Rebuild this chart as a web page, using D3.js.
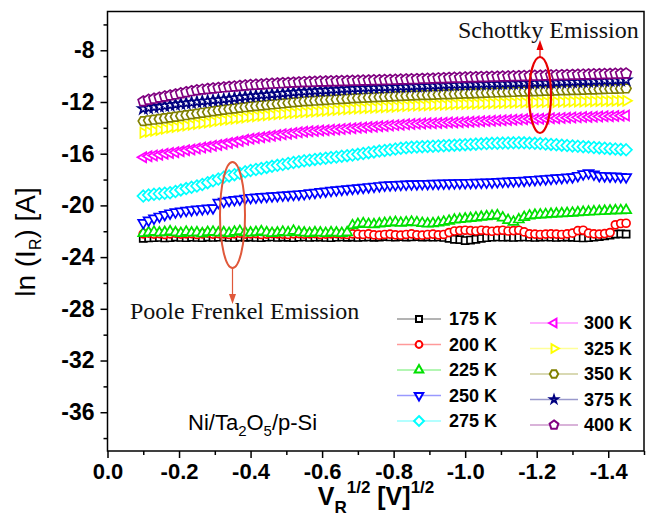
<!DOCTYPE html>
<html><head><meta charset="utf-8">
<script src="https://cdn.jsdelivr.net/npm/d3@7"></script>
<style>body{margin:0;background:#fff;} svg{display:block;}</style>
</head><body>
<svg id="chart" width="650" height="528"></svg>
<script>
// ---- data ----
const vStart = -0.10, vStep = -0.015, nPts = 91;   // reverse-bias sampling grid, V^1/2
const vR = d3.range(nPts).map(i => +(vStart + vStep * i).toFixed(3));

const labels = ["175 K","200 K","225 K","250 K","275 K","300 K","325 K","350 K","375 K","400 K"];

const s175 = [-22.55,-22.52,-22.50,-22.48,-22.52,-22.50,-22.45,-22.48,-22.50,-22.46,
-22.48,-22.50,-22.45,-22.48,-22.46,-22.44,-22.48,-22.50,-22.45,-22.47,
-22.45,-22.48,-22.50,-22.46,-22.44,-22.48,-22.45,-22.47,-22.50,-22.46,
-22.44,-22.48,-22.46,-22.45,-22.48,-22.50,-22.46,-22.44,-22.47,-22.45,
-22.48,-22.46,-22.44,-22.47,-22.45,-22.42,-22.44,-22.46,-22.42,-22.45,
-22.44,-22.42,-22.45,-22.43,-22.46,-22.44,-22.48,-22.55,-22.62,-22.65,
-22.72,-22.68,-22.62,-22.55,-22.50,-22.46,-22.44,-22.46,-22.45,-22.48,
-22.46,-22.44,-22.46,-22.48,-22.45,-22.44,-22.46,-22.48,-22.46,-22.45,
-22.47,-22.50,-22.52,-22.50,-22.46,-22.42,-22.35,-22.30,-22.22,-22.20,
-22.22];
const s200 = [-22.20,-22.15,-22.22,-22.18,-22.25,-22.20,-22.15,-22.22,-22.20,-22.18,
-22.25,-22.20,-22.15,-22.22,-22.18,-22.20,-22.25,-22.20,-22.15,-22.22,
-22.20,-22.18,-22.25,-22.22,-22.18,-22.20,-22.22,-22.25,-22.20,-22.18,
-22.22,-22.20,-22.18,-22.25,-22.22,-22.20,-22.18,-22.22,-22.25,-22.20,
-22.22,-22.25,-22.20,-22.28,-22.30,-22.25,-22.22,-22.28,-22.30,-22.25,
-22.20,-22.28,-22.30,-22.25,-22.22,-22.28,-22.25,-22.10,-21.98,-21.95,
-21.92,-21.95,-21.98,-21.92,-21.95,-22.00,-21.95,-21.92,-21.98,-21.95,
-21.92,-22.05,-22.20,-22.22,-22.25,-22.22,-22.20,-22.22,-22.25,-22.20,
-22.15,-21.95,-21.92,-22.15,-22.20,-22.22,-22.18,-22.10,-21.50,-21.40,
-21.38];
const s225 = [-22.15,-22.10,-22.05,-22.12,-22.08,-22.02,-22.10,-22.15,-22.05,-22.12,
-22.10,-22.18,-22.08,-22.05,-22.12,-22.10,-22.15,-22.06,-22.00,-22.10,
-22.12,-22.08,-22.02,-22.10,-22.15,-22.12,-22.05,-22.10,-21.98,-22.08,
-22.12,-22.15,-22.10,-22.12,-22.15,-22.10,-22.12,-22.15,-22.10,-21.55,
-21.45,-21.40,-21.45,-21.48,-21.42,-21.38,-21.34,-21.30,-21.36,-21.32,
-21.28,-21.32,-21.38,-21.42,-21.40,-21.35,-21.28,-21.20,-21.12,-21.08,
-21.04,-21.00,-20.95,-20.90,-20.86,-20.82,-20.78,-20.95,-21.15,-21.28,
-21.10,-20.92,-20.80,-20.75,-20.72,-20.70,-20.67,-20.65,-20.63,-20.61,
-20.58,-20.55,-20.52,-20.50,-20.48,-20.46,-20.44,-20.42,-20.40,-20.39,
-20.38];
const s250 = [-21.35,-21.15,-21.00,-20.85,-20.72,-20.60,-20.52,-20.46,-20.40,-20.35,
-20.30,-20.27,-20.23,-20.20,-19.78,-19.70,-19.62,-19.57,-19.52,-19.46,
-19.40,-19.37,-19.34,-19.31,-19.28,-19.25,-19.22,-19.19,-19.16,-19.13,
-19.10,-19.05,-19.00,-18.95,-18.90,-18.85,-18.81,-18.77,-18.73,-18.69,
-18.65,-18.61,-18.57,-18.53,-18.49,-18.45,-18.43,-18.41,-18.39,-18.37,
-18.35,-18.34,-18.33,-18.32,-18.31,-18.30,-18.29,-18.28,-18.27,-18.26,
-18.25,-18.24,-18.23,-18.22,-18.21,-18.20,-18.18,-18.16,-18.14,-18.12,
-18.10,-18.07,-18.04,-18.01,-17.98,-17.95,-17.92,-17.89,-17.86,-17.83,
-17.80,-17.70,-17.58,-17.50,-17.60,-17.70,-17.72,-17.74,-17.75,-17.78,
-17.80];
const s275 = [-19.28,-19.20,-19.14,-19.10,-19.06,-19.02,-18.92,-18.80,-18.70,-18.60,
-18.50,-18.38,-18.24,-18.10,-17.96,-17.82,-17.72,-17.62,-17.52,-17.40,
-17.30,-17.22,-17.14,-17.06,-16.98,-16.90,-16.84,-16.76,-16.68,-16.62,
-16.55,-16.50,-16.44,-16.40,-16.35,-16.30,-16.26,-16.20,-16.15,-16.10,
-16.05,-15.98,-15.92,-15.86,-15.80,-15.75,-15.70,-15.64,-15.58,-15.54,
-15.50,-15.48,-15.46,-15.44,-15.42,-15.40,-15.38,-15.36,-15.34,-15.32,
-15.30,-15.28,-15.26,-15.24,-15.22,-15.20,-15.19,-15.18,-15.17,-15.16,
-15.15,-15.16,-15.18,-15.20,-15.22,-15.25,-15.28,-15.31,-15.34,-15.37,
-15.40,-15.43,-15.46,-15.49,-15.52,-15.55,-15.58,-15.61,-15.64,-15.67,
-15.70];
const s300 = [-16.28,-16.20,-16.14,-16.08,-16.01,-15.95,-15.88,-15.81,-15.74,-15.67,
-15.60,-15.53,-15.46,-15.39,-15.32,-15.25,-15.17,-15.09,-15.01,-14.93,
-14.85,-14.79,-14.73,-14.67,-14.61,-14.55,-14.50,-14.45,-14.40,-14.35,
-14.30,-14.27,-14.24,-14.21,-14.18,-14.15,-14.12,-14.09,-14.06,-14.03,
-14.00,-13.97,-13.94,-13.91,-13.88,-13.85,-13.82,-13.79,-13.76,-13.73,
-13.70,-13.68,-13.67,-13.65,-13.64,-13.62,-13.61,-13.59,-13.58,-13.56,
-13.55,-13.53,-13.51,-13.49,-13.47,-13.45,-13.43,-13.41,-13.39,-13.37,
-13.35,-13.34,-13.32,-13.31,-13.29,-13.28,-13.26,-13.25,-13.23,-13.22,
-13.20,-13.19,-13.17,-13.16,-13.14,-13.13,-13.11,-13.10,-13.08,-13.07,
-13.05];
const s325 = [-14.38,-14.30,-14.23,-14.16,-14.08,-14.00,-13.94,-13.88,-13.82,-13.76,
-13.70,-13.64,-13.58,-13.52,-13.46,-13.40,-13.35,-13.30,-13.25,-13.20,
-13.15,-13.11,-13.07,-13.03,-12.99,-12.95,-12.92,-12.89,-12.86,-12.83,
-12.80,-12.77,-12.74,-12.71,-12.68,-12.65,-12.62,-12.59,-12.56,-12.53,
-12.50,-12.48,-12.46,-12.44,-12.42,-12.40,-12.38,-12.36,-12.34,-12.32,
-12.30,-12.28,-12.27,-12.25,-12.24,-12.22,-12.21,-12.19,-12.18,-12.16,
-12.15,-12.14,-12.13,-12.12,-12.11,-12.10,-12.09,-12.08,-12.07,-12.06,
-12.05,-12.04,-12.03,-12.03,-12.02,-12.01,-12.00,-12.00,-11.99,-11.98,
-11.97,-11.96,-11.96,-11.95,-11.94,-11.93,-11.93,-11.92,-11.91,-11.91,
-11.90];
const s350 = [-13.48,-13.42,-13.37,-13.32,-13.26,-13.20,-13.14,-13.08,-13.02,-12.96,
-12.90,-12.84,-12.78,-12.72,-12.66,-12.60,-12.55,-12.50,-12.45,-12.40,
-12.35,-12.31,-12.27,-12.23,-12.19,-12.15,-12.11,-12.07,-12.03,-11.99,
-11.95,-11.92,-11.90,-11.87,-11.85,-11.82,-11.80,-11.77,-11.75,-11.72,
-11.70,-11.68,-11.66,-11.64,-11.62,-11.60,-11.58,-11.56,-11.54,-11.52,
-11.50,-11.49,-11.47,-11.46,-11.44,-11.43,-11.41,-11.40,-11.38,-11.37,
-11.35,-11.34,-11.32,-11.31,-11.29,-11.28,-11.26,-11.25,-11.23,-11.22,
-11.20,-11.19,-11.18,-11.17,-11.15,-11.14,-11.13,-11.12,-11.10,-11.09,
-11.08,-11.07,-11.05,-11.04,-11.03,-11.02,-11.00,-10.99,-10.98,-10.97,
-10.95];
const s375 = [-12.52,-12.47,-12.41,-12.36,-12.30,-12.25,-12.20,-12.14,-12.10,-12.05,
-12.00,-11.96,-11.92,-11.88,-11.84,-11.80,-11.75,-11.70,-11.65,-11.60,
-11.56,-11.52,-11.48,-11.45,-11.41,-11.38,-11.34,-11.30,-11.27,-11.23,
-11.20,-11.17,-11.15,-11.12,-11.10,-11.07,-11.05,-11.02,-11.00,-10.97,
-10.95,-10.93,-10.92,-10.90,-10.88,-10.87,-10.85,-10.84,-10.82,-10.81,
-10.80,-10.78,-10.77,-10.75,-10.74,-10.72,-10.71,-10.69,-10.68,-10.66,
-10.65,-10.64,-10.63,-10.62,-10.61,-10.60,-10.59,-10.58,-10.57,-10.56,
-10.55,-10.54,-10.53,-10.52,-10.51,-10.50,-10.49,-10.48,-10.47,-10.46,
-10.45,-10.44,-10.42,-10.41,-10.39,-10.38,-10.36,-10.35,-10.33,-10.32,
-10.30];
const s400 = [-11.95,-11.83,-11.74,-11.66,-11.57,-11.49,-11.41,-11.33,-11.24,-11.16,
-11.09,-11.04,-10.99,-10.95,-10.91,-10.87,-10.83,-10.80,-10.76,-10.72,
-10.69,-10.66,-10.64,-10.61,-10.58,-10.56,-10.54,-10.52,-10.50,-10.48,
-10.46,-10.45,-10.44,-10.42,-10.41,-10.40,-10.39,-10.38,-10.37,-10.36,
-10.35,-10.34,-10.33,-10.32,-10.31,-10.30,-10.29,-10.28,-10.26,-10.25,
-10.24,-10.23,-10.21,-10.20,-10.19,-10.17,-10.16,-10.14,-10.13,-10.12,
-10.10,-10.09,-10.08,-10.07,-10.06,-10.05,-10.04,-10.03,-10.02,-10.01,
-10.00,-9.99,-9.98,-9.97,-9.96,-9.95,-9.94,-9.93,-9.92,-9.91,
-9.90,-9.89,-9.88,-9.87,-9.86,-9.85,-9.84,-9.83,-9.82,-9.81,
-9.80];

const seriesValues = [s175,s200,s225,s250,s275,s300,s325,s350,s375,s400];
const colors = ["#000000","#ff0000","#00e000","#0000ff","#00ffff","#ff00ff","#ffff00","#808000","#000080","#800080"];
const shapes = ["square","circle","triUp","triDown","diamond","triLeft","triRight","hexagon","star","pentagon"];

const xMajor = [0,-0.2,-0.4,-0.6,-0.8,-1.0,-1.2,-1.4];
const xMinor = [-0.1,-0.3,-0.5,-0.7,-0.9,-1.1,-1.3,-1.5];
const yMajor = [-8,-12,-16,-20,-24,-28,-32,-36];
const yMinor = [-6,-10,-14,-18,-22,-26,-30,-34,-38];

// ---- drawing ----
const svg = d3.select("#chart");
const L = 107.5, R = 644, T = 11.5, B = 451;
const x = d3.scaleLinear().domain([0,-1.5]).range([L,R]);
const y = d3.scaleLinear().domain([-39,-5]).range([B,T]);
const SANS = "'Liberation Sans', Arial, sans-serif";
const SERIF = "'Liberation Serif', 'Times New Roman', serif";

function poly(n, r, rotDeg){
  const pts = d3.range(n).map(k => {
    const a = (rotDeg + 360*k/n) * Math.PI/180;
    return [r*Math.cos(a), r*Math.sin(a)];
  });
  return "M" + pts.map(p => p[0].toFixed(2)+","+p[1].toFixed(2)).join("L") + "Z";
}
function shapePath(s, scale){
  const k = scale || 1;
  switch(s){
    case "square": return poly(4, 5.0*k, 45);
    case "circle": return d3.symbol(d3.symbolCircle, 50*k*k)();
    case "triUp": return poly(3, 5.8*k, -90);
    case "triDown": return poly(3, 5.8*k, 90);
    case "diamond": return poly(4, 5.8*k, -90);
    case "triLeft": return poly(3, 5.8*k, 180);
    case "triRight": return poly(3, 5.8*k, 0);
    case "hexagon": return poly(6, 5.0*k, 0);
    case "star": return d3.symbol(d3.symbolStar, 34*k*k)();
    case "pentagon": return poly(5, 5.4*k, -90);
  }
}

// axes
const gx = svg.append("g").attr("transform",`translate(0,${B})`);
gx.call(d3.axisBottom(x).tickValues(xMinor).tickSize(4).tickFormat(""));
const gxM = svg.append("g").attr("transform",`translate(0,${B})`);
gxM.call(d3.axisBottom(x).tickValues(xMajor).tickSize(7).tickPadding(5)
  .tickFormat(d => d.toFixed(1)));
const gy = svg.append("g").attr("transform",`translate(${L},0)`);
gy.call(d3.axisLeft(y).tickValues(yMinor).tickSize(4).tickFormat(""));
const gyM = svg.append("g").attr("transform",`translate(${L},0)`);
gyM.call(d3.axisLeft(y).tickValues(yMajor).tickSize(7).tickPadding(6)
  .tickFormat(d => String(d)));
svg.selectAll(".domain").remove();
svg.selectAll(".tick line").attr("stroke","#000").attr("stroke-width",1.5);
svg.selectAll(".tick text").attr("fill","#000").style("font-family",SANS)
  .style("font-weight","bold");
gxM.selectAll(".tick text").style("font-size","22px");
gyM.selectAll(".tick text").style("font-size","23px");

// series
const plot = svg.append("g");
seriesValues.forEach((vals, si) => {
  const pts = vals.map((v,i) => [vR[i], v]);
  plot.append("path").datum(pts)
    .attr("fill","none").attr("stroke",colors[si]).attr("stroke-opacity",0.4).attr("stroke-width",1)
    .attr("d", d3.line().x(d => x(d[0])).y(d => y(d[1])));
  const p = shapePath(shapes[si]);
  plot.append("g").selectAll("path").data(pts).join("path")
    .attr("transform", d => `translate(${x(d[0])},${y(d[1])})`)
    .attr("d", p).attr("fill","#fff").attr("stroke",colors[si]).attr("stroke-width",1.7);
});

// frame
svg.append("rect").attr("x",L).attr("y",T).attr("width",R-L).attr("height",B-T)
  .attr("fill","none").attr("stroke","#000").attr("stroke-width",1.5);

// legend
const leg = svg.append("g");
labels.forEach((lab, i) => {
  const col = i < 5 ? 0 : 1, row = i % 5;
  const x0 = col ? 530 : 397, x1 = col ? 578 : 441, xm = (x0+x1)/2, xt = col ? 584 : 449;
  const yy = (col ? 323 : 319) + row*25.5;
  leg.append("line").attr("x1",x0).attr("x2",x1).attr("y1",yy).attr("y2",yy)
    .attr("stroke",colors[i]).attr("stroke-opacity",0.4).attr("stroke-width",1.5);
  leg.append("path").attr("transform",`translate(${xm},${yy})`)
    .attr("d",shapePath(shapes[i], shapes[i]==="star" ? 0.7 : 0.85))
    .attr("fill","#fff").attr("stroke",colors[i]).attr("stroke-width",2);
  leg.append("text").attr("x",xt).attr("y",yy).attr("dy","0.36em").text(lab)
    .style("font-family",SANS).style("font-weight","bold").style("font-size","18px");
});

// axis titles
const yt = svg.append("text").attr("transform","translate(35,242) rotate(-90)")
  .attr("text-anchor","middle").style("font-family",SANS).style("font-size","28px");
yt.append("tspan").text("ln (I");
yt.append("tspan").text("R").style("font-size","16px").attr("dy",6);
yt.append("tspan").text(") [A]").attr("dy",-6);

const xt = svg.append("text").attr("x",376).attr("y",505).attr("text-anchor","middle")
  .style("font-family",SANS).style("font-weight","bold").style("font-size","25px");
xt.append("tspan").text("V");
xt.append("tspan").text("R").style("font-size","17px").attr("dy",8);
xt.append("tspan").text("1/2").style("font-size","17px").attr("dy",-20);
xt.append("tspan").text(" [V]").attr("dy",12);
xt.append("tspan").text("1/2").style("font-size","17px").attr("dy",-12);

// annotations
svg.append("text").attr("x",458).attr("y",38).text("Schottky Emission")
  .style("font-family",SERIF).style("font-size","24px").attr("fill","#111");
svg.append("text").attr("x",130).attr("y",319).text("Poole Frenkel Emission")
  .style("font-family",SERIF).style("font-size","24px").attr("fill","#111");
const ni = svg.append("text").attr("x",188).attr("y",430)
  .style("font-family",SANS).style("font-size","22px");
ni.append("tspan").text("Ni/Ta");
ni.append("tspan").text("2").style("font-size","15px").attr("dy",6);
ni.append("tspan").text("O").attr("dy",-6);
ni.append("tspan").text("5").style("font-size","15px").attr("dy",6);
ni.append("tspan").text("/p-Si").attr("dy",-6);

// ellipses and arrows
svg.append("ellipse").attr("cx",540).attr("cy",95).attr("rx",11).attr("ry",38)
  .attr("fill","none").attr("stroke","#e80000").attr("stroke-width",2.2);
svg.append("line").attr("x1",540).attr("x2",540).attr("y1",57).attr("y2",48)
  .attr("stroke","#e80000").attr("stroke-width",1.2);
svg.append("path").attr("d","M540,40L536.5,50L543.5,50Z").attr("fill","#e80000");

svg.append("ellipse").attr("cx",232.5).attr("cy",215).attr("rx",12.5).attr("ry",53)
  .attr("fill","none").attr("stroke","#e0583a").attr("stroke-width",2);
svg.append("line").attr("x1",232.5).attr("x2",232.5).attr("y1",268).attr("y2",295)
  .attr("stroke","#e0583a").attr("stroke-width",1.2);
svg.append("path").attr("d","M232.5,304L229,294L236,294Z").attr("fill","#e0583a");
</script>
</body></html>
